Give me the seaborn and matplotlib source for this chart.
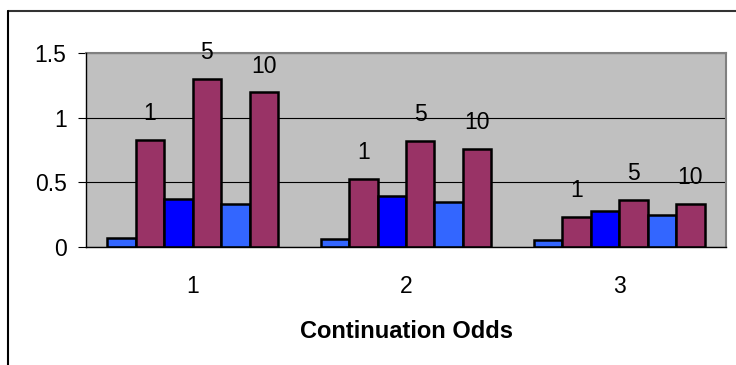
import matplotlib
matplotlib.use("Agg")
import matplotlib.pyplot as plt
from matplotlib.lines import Line2D
import pandas as pd
import seaborn as sns

# Chart data
categories = ["1", "2", "3"]
series_names = ["s1", "s2", "s3", "s4", "s5", "s6"]
series_values = {
    "s1": [0.07, 0.065, 0.055],
    "s2": [0.83, 0.525, 0.235],
    "s3": [0.375, 0.395, 0.28],
    "s4": [1.30, 0.82, 0.365],
    "s5": [0.33, 0.345, 0.245],
    "s6": [1.195, 0.755, 0.335],
}
series_colors = ["#3366FF", "#993366", "#0000FF", "#993366", "#3366FF", "#993366"]
bar_labels = {"s2": "1", "s4": "5", "s6": "10"}
y_ticks = [0, 0.5, 1, 1.5]
y_tick_labels = ["0", "0.5", "1", "1.5"]
x_title = "Continuation Odds"

rows = []
for name in series_names:
    for cat, val in zip(categories, series_values[name]):
        rows.append({"category": cat, "series": name, "value": val})
df = pd.DataFrame(rows)

sns.set_style("white")
plt.rcParams["font.family"] = ["Liberation Sans", "DejaVu Sans"]
plt.rcParams["text.color"] = "black"
plt.rcParams["axes.labelcolor"] = "black"
plt.rcParams["xtick.color"] = "black"
plt.rcParams["ytick.color"] = "black"

fs = 16.5

fig = plt.figure(figsize=(7.36, 3.65), dpi=100)
ax = fig.add_axes([86 / 736, 118 / 365, 640 / 736, 194 / 365])
ax.set_facecolor("#C0C0C0")

sns.barplot(data=df, x="category", y="value", hue="series", order=categories,
            hue_order=series_names, palette=series_colors, width=0.8,
            edgecolor="black", linewidth=1.8, saturation=1, legend=False,
            ax=ax, zorder=3)

# labels above the maroon bars
for name, container in zip(series_names, ax.containers):
    if name in bar_labels:
        for patch in container:
            ax.annotate(bar_labels[name],
                        (patch.get_x() + patch.get_width() / 2, patch.get_height()),
                        xytext=(0, 19), textcoords="offset points",
                        ha="center", va="center", fontsize=fs, zorder=4)

ax.set_ylim(0, 1.5)
ax.set_xlim(-0.5, 2.5)
ax.set_yticks(y_ticks)
ax.set_yticklabels(y_tick_labels)
ax.yaxis.grid(True, color="black", linewidth=0.8, zorder=1)
ax.xaxis.grid(False)

ax.set_xticks([-0.5, 0.5, 1.5, 2.5], minor=True)
ax.tick_params(axis="x", which="major", length=0, pad=20, labelsize=fs)
ax.tick_params(axis="x", which="minor", length=6, width=0.8, color="black", direction="out")
ax.tick_params(axis="y", which="major", length=6, width=0.8, color="black",
               direction="out", pad=8, labelsize=fs, left=True)

ax.set_ylabel("")
ax.set_xlabel(x_title, fontsize=17, fontweight="bold", labelpad=16)

for side in ["top", "right"]:
    ax.spines[side].set_color("#808080")
    ax.spines[side].set_linewidth(1.5)
for side in ["left", "bottom"]:
    ax.spines[side].set_color("black")
    ax.spines[side].set_linewidth(1.0)
    ax.spines[side].set_zorder(5)

# outer chart border (top and left visible in the crop)
fig.add_artist(Line2D([8 / 736, 1.0], [1 - 11 / 365, 1 - 11 / 365],
                      transform=fig.transFigure, color="#333333", linewidth=1.5))
fig.add_artist(Line2D([8 / 736, 8 / 736], [0.0, 1 - 11 / 365],
                      transform=fig.transFigure, color="black", linewidth=1.5))

fig.savefig("out.png", dpi=100)
